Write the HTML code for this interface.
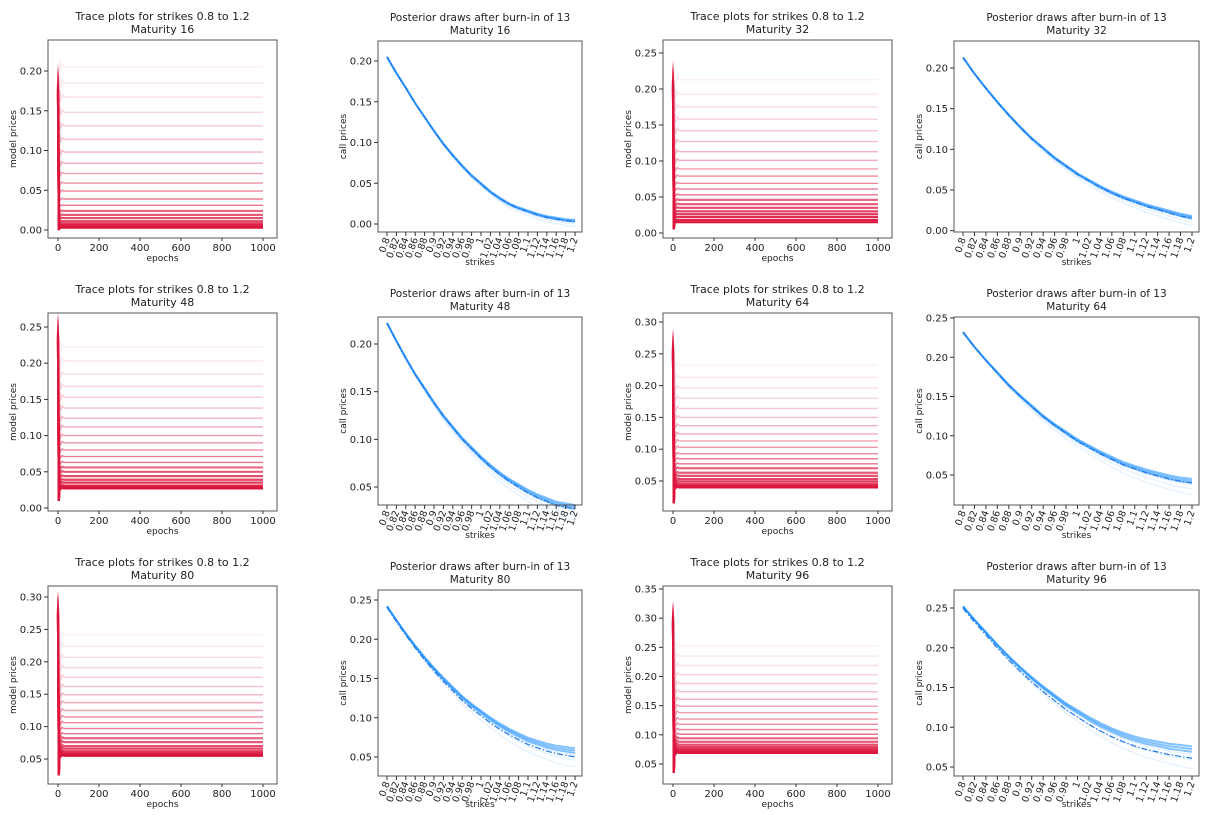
<!DOCTYPE html>
<html><head><meta charset="utf-8"><style>
body{margin:0;background:#fff;font-family:"Liberation Sans","DejaVu Sans",sans-serif}
svg text{font-family:"DejaVu Sans","Liberation Sans",sans-serif;fill:#222}
</style></head><body>
<svg id="c" width="1212" height="810" viewBox="0 0 1212 810" xmlns="http://www.w3.org/2000/svg"></svg>
<script>
const maturities=[16,32,48,64,80,96];
const strikes=[0.8,0.82,0.84,0.86,0.88,0.9,0.92,0.94,0.96,0.98,1,1.02,1.04,1.06,1.08,1.1,1.12,1.14,1.16,1.18,1.2];
const priceM16=[0.205,0.185,0.167,0.148,0.131,0.114,0.098,0.084,0.071,0.059,0.049,0.039,0.031,0.024,0.019,0.015,0.011,0.008,0.006,0.004,0.003];
const priceM32=[0.213,0.193,0.175,0.158,0.142,0.127,0.113,0.101,0.089,0.079,0.069,0.061,0.053,0.046,0.040,0.035,0.030,0.026,0.022,0.018,0.015];
const priceM48=[0.222,0.203,0.185,0.168,0.153,0.138,0.124,0.112,0.100,0.090,0.080,0.071,0.063,0.056,0.050,0.044,0.039,0.035,0.031,0.029,0.027];
const priceM64=[0.232,0.213,0.196,0.180,0.164,0.150,0.137,0.124,0.113,0.103,0.093,0.085,0.077,0.070,0.063,0.058,0.053,0.049,0.045,0.042,0.040];
const priceM80=[0.242,0.224,0.207,0.191,0.176,0.162,0.149,0.137,0.125,0.115,0.106,0.097,0.089,0.082,0.076,0.070,0.066,0.062,0.059,0.057,0.055];
const priceM96=[0.252,0.235,0.219,0.203,0.188,0.174,0.161,0.149,0.138,0.127,0.118,0.109,0.101,0.094,0.088,0.083,0.079,0.076,0.073,0.071,0.069];
const prices=[priceM16,priceM32,priceM48,priceM64,priceM80,priceM96];
const tracePeaks=[0.21,0.24,0.27,0.29,0.31,0.33];
const traceTroughs=[0.0,0.005,0.01,0.015,0.025,0.035];
const marketGapEnd=[0,0,0,0,0.005,0.008];
const drawOffsets=[-0.006,-0.003,-0.001,0,0.001,0.002];
const traceYTicks=[[0,0.05,0.1,0.15,0.2],[0,0.05,0.1,0.15,0.2,0.25],[0,0.05,0.1,0.15,0.2,0.25],[0.05,0.1,0.15,0.2,0.25,0.3],[0.05,0.1,0.15,0.2,0.25,0.3],[0.05,0.1,0.15,0.2,0.25,0.3,0.35]];
const postYTicks=[[0,0.05,0.1,0.15,0.2],[0,0.05,0.1,0.15,0.2],[0.05,0.1,0.15,0.2],[0.05,0.1,0.15,0.2,0.25],[0.05,0.1,0.15,0.2,0.25],[0.05,0.1,0.15,0.2,0.25]];
const epochTicks=[0,200,400,600,800,1000];
// layout: [frameL,frameR,frameT,frameB, yValA,pixA,yValB,pixB]
const traceLayout=[[48,277,40,238,0,230,0.2,71],[663,892,40,238,0,233,0.25,53],[48,277,313,511,0,508,0.25,327],[663,892,313,511,0.05,481,0.3,322],[48,277,586,784,0.05,759,0.3,597],[663,892,586,784,0.05,764,0.35,589]];
const postLayout=[[378,582,41,232,0,224,0.2,61],[954,1199,41,232,0.05,190,0.2,68],[378,582,317,505,0.05,487,0.2,344],[954,1199,317,505,0.05,475,0.25,318],[378,582,590,776,0.05,757,0.25,600],[954,1199,590,776,0.05,767,0.25,608]];
const svg=document.getElementById('c');
const NS='http://www.w3.org/2000/svg';
function mk(tag,attrs,parent){const e=document.createElementNS(NS,tag);for(const k in attrs)e.setAttribute(k,attrs[k]);(parent||svg).appendChild(e);return e;}
function txt(s,x,y,attrs,parent){const t=mk('text',Object.assign({x:x,y:y},attrs),parent);t.textContent=s;return t;}
function fmt(v){return v.toFixed(2);}
function fmtK(v){return String(+v.toFixed(2));}

maturities.forEach((m,i)=>{
  const P=prices[i];
  const L=traceLayout[i];
  const g=mk('g',{});
  
  
  const sy=v=>L[5]+(v-L[4])*(L[7]-L[5])/(L[6]-L[4]);
  const sx=e=>(L[0]+10)+e*((L[1]-14)-(L[0]+10))/1000;
  const cx=(L[0]+L[1])/2;
  const t1=txt('Trace plots for strikes 0.8 to 1.2',cx,L[2]-20,{'font-size':11,'text-anchor':'middle'},g);
  
  const t2=txt('Maturity '+m,cx,L[2]-7,{'font-size':11,'text-anchor':'middle'},g);
  
  P.forEach((v,k)=>{
    const a=0.07+0.93*Math.pow(k/(P.length-1),1.1);
    const d=`M${sx(0)},${sy(tracePeaks[i]-k*0.002)} L${sx(4)},${sy(traceTroughs[i])} L${sx(8)},${sy(v*1.05)} L${sx(12)},${sy(v*0.97)} L${sx(20)},${sy(v*1.02)} L${sx(30)},${sy(v)} L${sx(1000)},${sy(v)}`;
    const p=mk('path',{d:d,fill:'none',stroke:'#dc143c','stroke-opacity':a,'stroke-width':k>12?2.2:1.4},g);
    
    
  });
  const f=mk('rect',{x:L[0],y:L[2],width:L[1]-L[0],height:L[3]-L[2],fill:'none',stroke:'#555','stroke-width':1},g);
  
  epochTicks.forEach(e=>{
    mk('line',{x1:sx(e),x2:sx(e),y1:L[3],y2:L[3]+3,stroke:'#333'},g);
    const t=txt(String(e),sx(e),L[3]+13,{'font-size':10,'text-anchor':'middle'},g);
    
  });
  traceYTicks[i].forEach(v=>{
    mk('line',{x1:L[0]-4,x2:L[0],y1:sy(v),y2:sy(v),stroke:'#333'},g);
    const t=txt(fmt(v),L[0]-6,sy(v)+3.5,{'font-size':10,'text-anchor':'end'},g);
    
  });
  const xl=txt('epochs',cx,L[3]+23,{'font-size':9,'text-anchor':'middle'},g);
  
  const yl=txt('model prices',0,0,{'font-size':9,'text-anchor':'middle',transform:`translate(${L[0]-32},${(L[2]+L[3])/2}) rotate(-90)`},g);
  

  const Q=postLayout[i];
  const h=mk('g',{});
  
  
  const qy=v=>Q[5]+(v-Q[4])*(Q[7]-Q[5])/(Q[6]-Q[4]);
  const qx=k=>(Q[0]+9)+(k-0.8)*((Q[1]-7)-(Q[0]+9))/0.4;
  const qc=(Q[0]+Q[1])/2;
  const p1=txt('Posterior draws after burn-in of 13',qc,Q[2]-20,{'font-size':10.5,'text-anchor':'middle'},h);
  
  const p2=txt('Maturity '+m,qc,Q[2]-7,{'font-size':10.5,'text-anchor':'middle'},h);
  
  drawOffsets.forEach((o,j)=>{
    const d=P.map((v,k)=>(k?'L':'M')+qx(strikes[k])+','+qy(v+o*(k/(P.length-1))*(1+i*0.5))).join(' ');
    const p=mk('path',{d:d,fill:'none',stroke:'#1e90ff','stroke-opacity':j>=3?0.55:0.15,'stroke-width':j>=3?2:1},h);
    
    
  });
  const dm=P.map((v,k)=>(k?'L':'M')+qx(strikes[k])+','+qy(v-marketGapEnd[i]*(0.3+0.7*k/(P.length-1)))).join(' ');
  const mp=mk('path',{d:dm,fill:'none',stroke:'#1e78e6','stroke-width':1.2,'stroke-dasharray':'6,2,1.5,2'},h);
  
  const f2=mk('rect',{x:Q[0],y:Q[2],width:Q[1]-Q[0],height:Q[3]-Q[2],fill:'none',stroke:'#555','stroke-width':1},h);
  
  strikes.forEach(k=>{
    mk('line',{x1:qx(k),x2:qx(k),y1:Q[3],y2:Q[3]+4,stroke:'#333'},h);
    const t=txt(fmtK(k),0,0,{'font-size':9.5,'text-anchor':'end',transform:`translate(${qx(k)+3},${Q[3]+7}) rotate(-70)`},h);
    
  });
  postYTicks[i].forEach(v=>{
    mk('line',{x1:Q[0]-4,x2:Q[0],y1:qy(v),y2:qy(v),stroke:'#333'},h);
    const t=txt(fmt(v),Q[0]-6,qy(v)+3.5,{'font-size':10,'text-anchor':'end'},h);
    
  });
  const xl2=txt('strikes',qc,Math.min(Q[3]+33,807),{'font-size':9,'text-anchor':'middle'},h);
  
  const yl2=txt('call prices',0,0,{'font-size':9,'text-anchor':'middle',transform:`translate(${Q[0]-32},${(Q[2]+Q[3])/2}) rotate(-90)`},h);
  
});
</script>
</body></html>
